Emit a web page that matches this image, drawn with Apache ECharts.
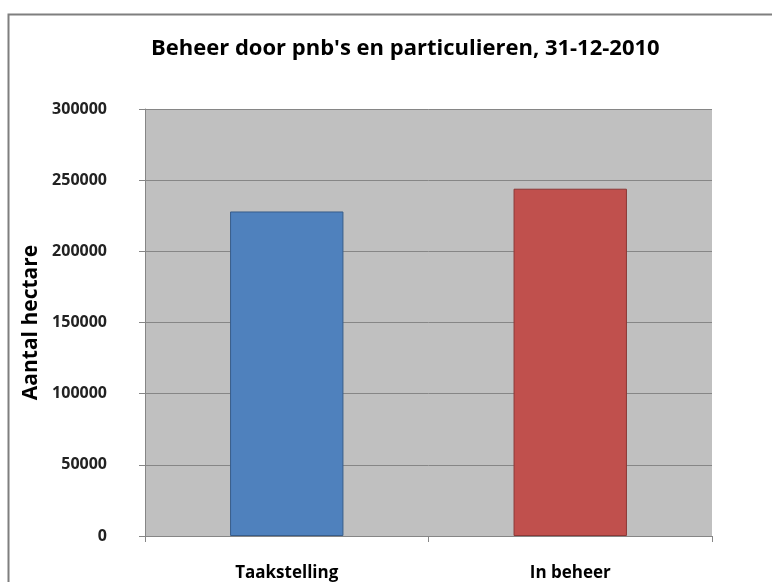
<!DOCTYPE html>
<html>
<head>
<meta charset="utf-8">
<script src="https://cdn.jsdelivr.net/npm/echarts@6/dist/echarts.min.js"></script>
<style>
  html, body { margin: 0; padding: 0; background: #fff; }
  #main { width: 772px; height: 582px; }
</style>
</head>
<body>
<div id="main"></div>
<script>
// data
const categories = ['Taakstelling', 'In beheer'];
const values = [228000, 244000];
const barColors = ['#4f81bd', '#c0504d'];
const barBorders = ['#385d8a', '#8c3836'];

const font = '"Open Sans", "Noto Sans", sans-serif';

const myChart = echarts.init(document.getElementById('main'));
myChart.setOption({
  animation: false,
  backgroundColor: '#fff',
  title: {
    text: "Beheer door pnb's en particulieren, 31-12-2010",
    left: 146,
    top: 33,
    textStyle: { fontFamily: font, fontSize: 22, fontWeight: 'bold', color: '#000' }
  },
  graphic: [{
    type: 'rect',
    shape: { x: 8.5, y: 14.5, width: 780, height: 600 },
    style: { fill: 'none', stroke: '#7f7f7f', lineWidth: 2 },
    silent: true
  }],
  grid: { left: 145, right: 60, top: 109, bottom: 45, show: true, backgroundColor: '#c0c0c0', borderWidth: 0 },
  xAxis: {
    type: 'category',
    data: categories,
    axisLine: { lineStyle: { color: '#868686' } },
    axisTick: { show: true, length: 6, lineStyle: { color: '#868686' } },
    axisLabel: { margin: 29, fontFamily: font, fontSize: 17, fontWeight: 'bold', color: '#000' }
  },
  yAxis: {
    type: 'value',
    min: 0,
    max: 300000,
    interval: 50000,
    name: 'Aantal hectare',
    nameLocation: 'middle',
    nameGap: 100,
    nameTextStyle: { fontFamily: font, fontSize: 21, fontWeight: 'bold', color: '#000' },
    axisLine: { show: true, lineStyle: { color: '#868686' } },
    axisTick: { show: true, length: 6, inside: false, lineStyle: { color: '#868686' } },
    axisLabel: { margin: 38, fontFamily: font, fontSize: 16, fontWeight: 'bold', color: '#222',
      formatter: v => String(v) },
    splitLine: { lineStyle: { color: '#868686', width: 1 } }
  },
  series: [{
    type: 'bar',
    barWidth: '40%',
    data: values.map((v, i) => ({
      value: v,
      itemStyle: { color: barColors[i], borderColor: barBorders[i], borderWidth: 1 }
    }))
  }]
});
</script>
</body>
</html>
